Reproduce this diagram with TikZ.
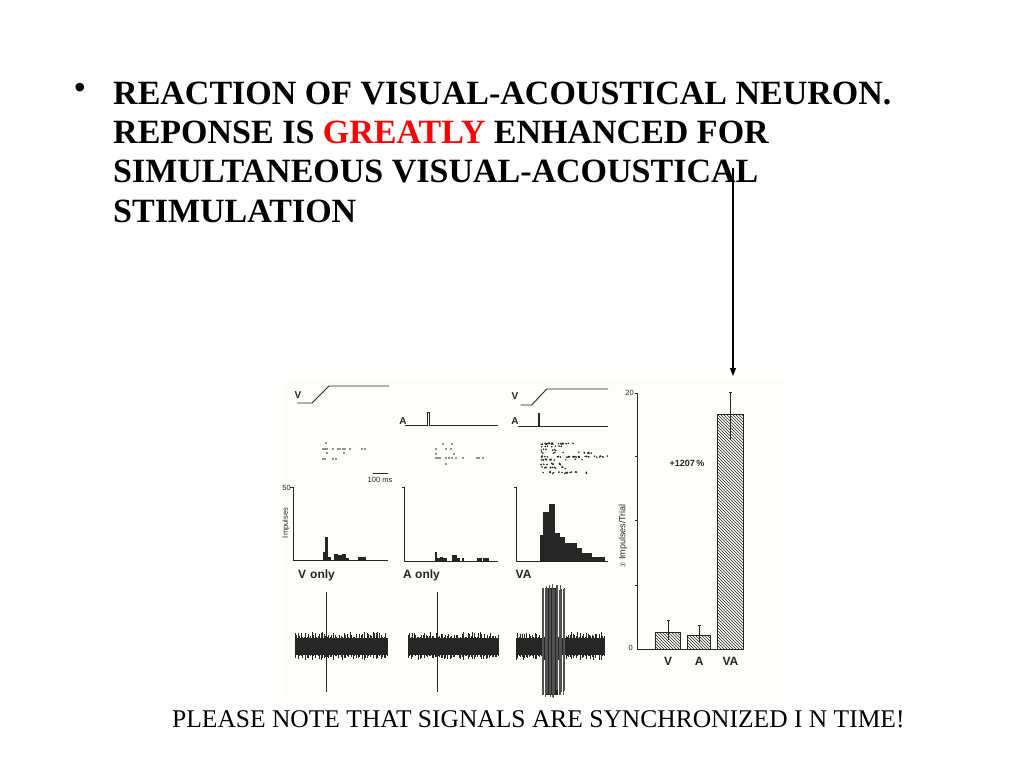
\documentclass[tikz,border=0pt]{standalone}
\usepackage{fontspec}
\setmainfont{Liberation Serif}
\setsansfont{Liberation Sans}
\usepackage{tikz}
\usetikzlibrary{arrows.meta, patterns}
\definecolor{ink}{rgb}{0.15,0.15,0.15}
\definecolor{paper}{rgb}{0.993,0.993,0.975}

\begin{document}
\begin{tikzpicture}[x=1pt, y=-1pt,
		headline/.style={anchor=base west, inner sep=0pt, font=\fontsize{34}{39}\selectfont\bfseries},
		footline/.style={anchor=base west, inner sep=0pt, font=\fontsize{25.5}{29}\selectfont},
		plotlabel/.style={anchor=base west, inner sep=0pt, text=ink, font=\sffamily\bfseries\fontsize{12}{14}\selectfont},
		stimlabel/.style={inner sep=0pt, text=ink, font=\sffamily\bfseries\fontsize{10}{11}\selectfont},
		smalllabel/.style={inner sep=0pt, text=ink, font=\sffamily\fontsize{7.5}{8}\selectfont},
		axisline/.style={draw=ink, line width=0.7pt},
		stimline/.style={draw=ink, line width=0.9pt},
		histbar/.style={fill=ink},
		hatchbar/.style={draw=ink, line width=0.7pt, pattern=north west lines, pattern color=ink},
	]
	\useasboundingbox (0,0) rectangle (1024,768);
	\fill[white] (0,0) rectangle (1024,768);
	\fill[paper] (282,380) rectangle (784,702);

	% heading
	\node[inner sep=0pt, font=\fontsize{36}{39}\selectfont] (bullet) at (80,91) {•};
	\node[headline] (line1) at (113,104) {REACTION OF VISUAL-ACOUSTICAL NEURON.};
	\node[headline] (line2) at (113,143) {REPONSE IS \textcolor{red}{GREATLY} ENHANCED FOR};
	\node[headline] (line3) at (113,182.5) {SIMULTANEOUS VISUAL-ACOUSTICAL};
	\node[headline] (line4) at (113,222) {STIMULATION};
	\node[footline] (note) at (172,727) {PLEASE NOTE THAT SIGNALS ARE SYNCHRONIZED I N TIME!};

	% stimulus traces
	\node[stimlabel] (vlabel1) at (298,395) {V};
	\draw[stimline] (297,403) -- (312,403) -- (329,386) -- (389,386);
	\node[stimlabel] (alabel2) at (403,421) {A};
	\draw[stimline] (405,425) -- (427.5,425) -- (427.5,412) -- (429,412) -- (429,425) -- (498,425);
	\node[stimlabel] (vlabel3) at (515,396) {V};
	\draw[stimline] (520.7,405) -- (531.7,405) -- (546.7,389) -- (608,389);
	\node[stimlabel] (alabel3) at (515,421) {A};
	\draw[stimline] (518.3,426.7) -- (538.3,426.7) -- (538.3,413) -- (539.8,413) -- (539.8,426.7) -- (608,426.7);

	% rasters
	\foreach \x/\y in {326/443, 323/449, 325/449, 327/449, 333/449, 338/449, 340/449, 343/449, 345/449, 350/449, 362/449, 365/449, 327/453, 344/453, 323/459, 325/459, 333/459, 336/459}
		\fill[ink] (\x,\y) circle[radius=0.9];
	\foreach \x/\y in {443/444, 452/444, 436/449, 446/449, 451/449, 436/454, 454/454, 436/458, 438/458, 440/458, 446/458, 449/458, 452/458, 456/458, 463/458, 477/458, 479/458, 483/458, 446/464}
		\fill[ink] (\x,\y) circle[radius=0.9];
	\pgfmathsetseed{11}
	\foreach \y/\e/\n in {443/575/22, 446/562/7, 449/556/6, 452/600/12, 456/608/32, 459/585/12, 463/562/10, 467/570/12, 472/598/18}
		\foreach \k in {1,...,\n}
			\fill[ink] ({541+rnd*(\e-541)},{\y+rnd*1.5}) circle[radius=0.9];
	\draw[ink, line width=0.6pt] (373,473) -- (388,473);
	\node[smalllabel, anchor=base] (scale) at (380,482) {100 ms};

	% histograms
	\draw[axisline] (290,487) -- (293,487) -- (293,560) -- (388,560);
	\node[smalllabel, anchor=east] (fifty) at (291,488) {50};
	\node[smalllabel, rotate=90] (impulses) at (286,523) {Impulses};
	\foreach \l/\r/\t in {322.7/325/551.7, 325/328.3/536.7, 328.3/330.7/556.7, 334.3/338.3/554, 338.3/341.7/555, 341.7/346/554, 346/349.3/558.3, 358.3/366/557.3}
		\fill[histbar] (\l,\t) rectangle (\r,560);
	\draw[axisline] (402,487) -- (404,487) -- (404,561) -- (498,561);
	\foreach \l/\r/\t in {435/437.3/551.7, 437.3/440/557.7, 440/443.3/556.7, 443.3/446.7/558.3, 451.7/457.3/555, 457.3/460/557.7, 461.7/464.3/557.7, 476.7/481.7/558.3, 483.3/489.3/558.3}
		\fill[histbar] (\l,\t) rectangle (\r,561);
	\draw[axisline] (514,487) -- (516,487) -- (516,561.7) -- (608,561.7);
	\foreach \l/\r/\t in {540/543.3/535, 543.3/549.3/511.7, 549.3/555.3/504, 555.3/560/533.3, 560/565/536.7, 565/570/543.3, 570/576.7/543.3, 576.7/581.7/548.3, 581.7/585/553.3, 585/591.7/553.3, 591.7/598.3/556.7, 598.3/605/556.7}
		\fill[histbar] (\l,\t) rectangle (\r,561.7);
	\node[plotlabel] (vonly) at (298,578) {V\,\,only};
	\node[plotlabel] (aonly) at (403,578) {A only};
	\node[plotlabel] (vaonly) at (515.5,578) {VA};

	% recordings
	\foreach \b/\e in {295/387, 408/498, 516/604} {
		\fill[ink] (\b,638) rectangle (\e,655);
		\foreach \t in {0,...,60}
			\draw[ink, line width=0.7pt] ({\b+\t*(\e-\b)/60},{638-rnd*6}) -- ({\b+\t*(\e-\b)/60},{655+rnd*5});
	}
	\draw[ink, line width=0.6pt] (326.7,591.7) -- (326.7,691.7);
	\draw[ink, line width=0.6pt] (437.3,591.7) -- (437.3,691.7);
	\fill[ink] (545,588) rectangle (558,695);
	\foreach \t in {0,...,16}
		\draw[ink!80, line width=0.6pt] ({542+\t*1.4},{583+rnd*8}) -- ({542+\t*1.4},{698-rnd*8});

	% bar chart
	\draw[axisline] (637.3,393.3) -- (637.3,649.3) -- (741.7,649.3);
	\foreach \y in {393.3, 456.7, 520.7, 585}
		\draw[axisline] (635,\y) -- (637.3,\y);
	\node[smalllabel, anchor=east] (twenty) at (634,393.3) {20};
	\node[smalllabel, anchor=east] (zero) at (633,648) {0};
	\node[smalllabel, rotate=90, font=\sffamily\fontsize{9}{10}\selectfont] (ylabel) at (623,536) {$\bar{x}$ Impulses/Trial};
	\draw[hatchbar] (655.7,632.7) rectangle (680.7,649.3);
	\draw[hatchbar] (687.7,635) rectangle (710.7,649.3);
	\draw[hatchbar] (717.7,414.3) rectangle (743.3,649.3);
	\draw[ink, line width=0.5pt] (668.2,640) -- (668.2,620) (666.5,620) -- (669.9,620);
	\draw[ink, line width=0.5pt] (699.2,642) -- (699.2,625.7) (697.5,625.7) -- (700.9,625.7);
	\draw[ink, line width=0.5pt] (730.5,440) -- (730.5,392.7) (728.8,392.7) -- (732.2,392.7);
	\node[smalllabel, font=\sffamily\bfseries\fontsize{9}{10}\selectfont] (gain) at (687,463) {+1207\,\%};
	\node[plotlabel, anchor=base] (vbar) at (668.2,665) {V};
	\node[plotlabel, anchor=base] (abar) at (699.2,665) {A};
	\node[plotlabel, anchor=base] (vabar) at (730.5,665) {VA};

	% pointer
	\coordinate (pointtop) at (733,168);
	\coordinate (pointend) at (733,376);
	\draw[-{Triangle[length=8pt, width=6pt]}, line width=1.1pt] (pointtop) -- (pointend);
\end{tikzpicture}
\end{document}
